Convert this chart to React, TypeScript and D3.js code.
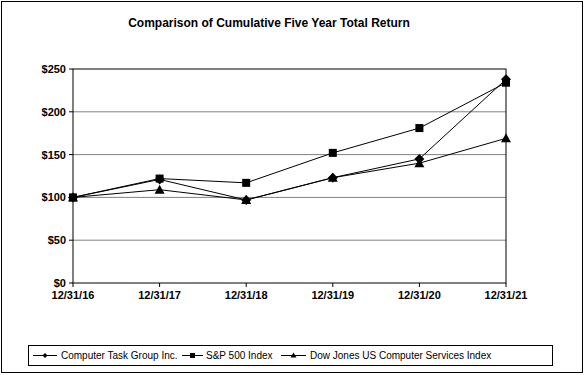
import React from "react";
import * as d3 from "d3";

const categories = ["12/31/16", "12/31/17", "12/31/18", "12/31/19", "12/31/20", "12/31/21"];
const ctgValues = [100, 121, 97, 123, 145, 238];
const spValues = [100, 122, 117, 152, 181, 234];
const djValues = [100, 109, 97, 123, 140, 169];
const yTicks = [0, 50, 100, 150, 200, 250];
const seriesNames = ["Computer Task Group Inc.", "S&P 500 Index", "Dow Jones US Computer Services Index"];

const W = 586, H = 375;
const FONT = "'Liberation Sans', Arial, sans-serif";

function Marker({ type, x, y }: { type: string; x: number; y: number }) {
  if (type === "diamond") {
    const s = 5;
    return <path d={`M${x},${y - s}L${x + s},${y}L${x},${y + s}L${x - s},${y}Z`} fill="#000" />;
  }
  if (type === "square") {
    return <rect x={x - 4} y={y - 4} width={8} height={8} fill="#000" />;
  }
  return <path d={`M${x},${y - 5}L${x + 5},${y + 4}L${x - 5},${y + 4}Z`} fill="#000" />;
}

function SmallMarker({ type, x, y }: { type: string; x: number; y: number }) {
  if (type === "diamond") {
    const s = 2.5;
    return <path d={`M${x},${y - s}L${x + s},${y}L${x},${y + s}L${x - s},${y}Z`} fill="#000" />;
  }
  if (type === "square") {
    return <rect x={x - 2.5} y={y - 2.5} width={5} height={5} fill="#000" />;
  }
  return <path d={`M${x},${y - 3}L${x + 3},${y + 2}L${x - 3},${y + 2}Z`} fill="#000" />;
}

export default function App() {
  const left = 73, right = 506, top = 69, bottom = 283;
  const x = d3.scalePoint<string>().domain(categories).range([left, right]);
  const y = d3.scaleLinear().domain([0, 250]).range([bottom, top]);
  const line = d3
    .line<number>()
    .x((_, i) => x(categories[i]) as number)
    .y((d) => y(d));

  const series = [
    { name: seriesNames[0], values: ctgValues, marker: "diamond" },
    { name: seriesNames[1], values: spValues, marker: "square" },
    { name: seriesNames[2], values: djValues, marker: "triangle" },
  ];

  const legendItems = [
    { x1: 33, x2: 57, tx: 61, marker: "diamond" },
    { x1: 182, x2: 203, tx: 206, marker: "square" },
    { x1: 281, x2: 306, tx: 310, marker: "triangle" },
  ];

  return (
    <svg width={W} height={H} style={{ position: "absolute", left: 0, top: 0 }} fontFamily={FONT}>
      <rect x={0} y={0} width={W} height={H} fill="#fff" />
      <rect x={1.5} y={1.5} width={581} height={371} fill="none" stroke="#000" strokeWidth={1} />
      <text x={269} y={27} textAnchor="middle" fontSize={12} fontWeight="bold" fill="#000">
        Comparison of Cumulative Five Year Total Return
      </text>
      {yTicks.map((t) => (
        <g key={t}>
          {t > 0 && t < 250 && (
            <line x1={left} x2={right} y1={y(t)} y2={y(t)} stroke="#808080" strokeWidth={1} />
          )}
          <line x1={left - 4} x2={left} y1={y(t)} y2={y(t)} stroke="#000" />
          <text x={left - 7} y={y(t) + 4} textAnchor="end" fontSize={11} fontWeight="bold" fill="#000">
            {`$${t}`}
          </text>
        </g>
      ))}
      <rect x={left} y={top} width={right - left} height={bottom - top} fill="none" stroke="#000" strokeWidth={1} />
      {categories.map((c) => (
        <g key={c}>
          <line x1={x(c)} x2={x(c)} y1={bottom} y2={bottom + 4} stroke="#000" />
          <text x={x(c)} y={bottom + 16} textAnchor="middle" fontSize={11} fontWeight="bold" fill="#000">
            {c}
          </text>
        </g>
      ))}
      {series.map((s) => (
        <g key={s.name}>
          <path d={line(s.values) || ""} fill="none" stroke="#000" strokeWidth={1} />
          {s.values.map((v, i) => (
            <Marker key={i} type={s.marker} x={x(categories[i]) as number} y={y(v)} />
          ))}
        </g>
      ))}
      <rect x={28.5} y={345.5} width={524} height={20} fill="#fff" stroke="#000" strokeWidth={1} />
      {legendItems.map((it, i) => (
        <g key={i}>
          <line x1={it.x1} x2={it.x2} y1={355.5} y2={355.5} stroke="#000" />
          <SmallMarker type={it.marker} x={(it.x1 + it.x2) / 2} y={355.5} />
          <text x={it.tx} y={359} fontSize={10} fill="#000">
            {seriesNames[i]}
          </text>
        </g>
      ))}
    </svg>
  );
}
